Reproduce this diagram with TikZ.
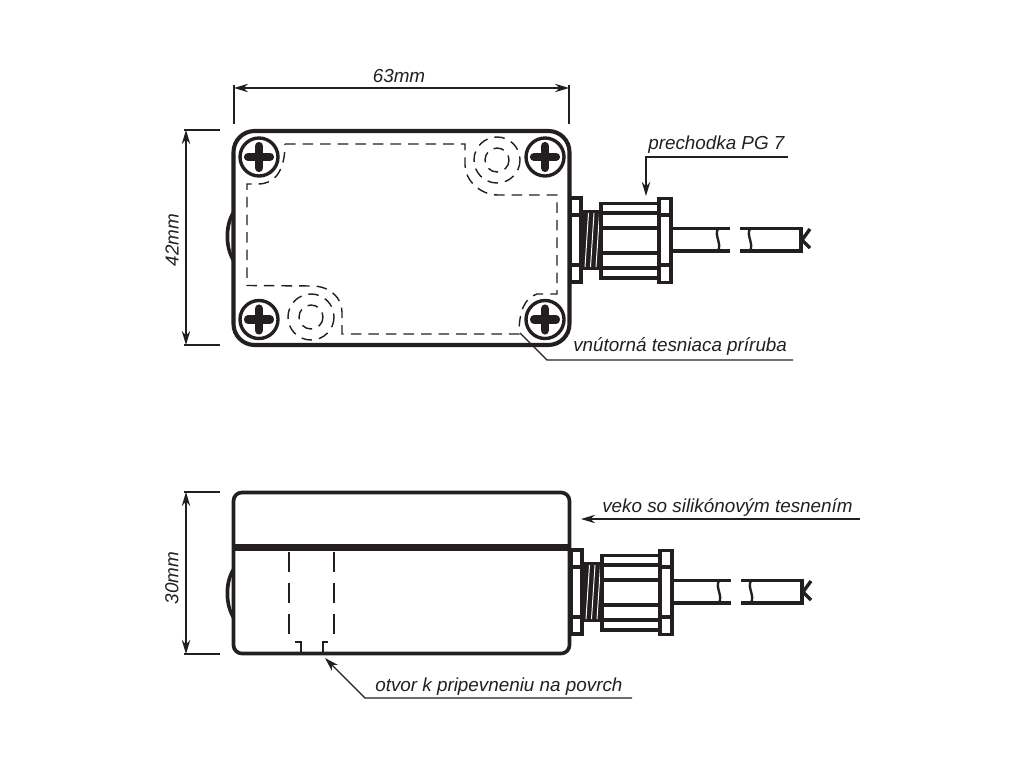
\documentclass[tikz,border=0pt]{standalone}
\usepackage{fontspec}
\setmainfont{Liberation Sans}
\usepackage{xcolor}
\usetikzlibrary{arrows.meta}
\definecolor{ink}{HTML}{231F20}
\newcommand{\gland}{
    \draw[thick line] (570,198) rectangle (581,282);
    \draw[thick line] (570,215) -- (581,215) (570,265) -- (581,265);
    \fill[ink] (581,210) rectangle (601,270);
    \foreach \x in {585,590.5,596}
    {\draw[white, line width=.7pt] (\x,267) -- (\x+3.5,213);}
    \draw[thick line] (601,203.5) rectangle (659,278);
    \foreach \y in {213,228,253,268}
    {\draw[thick line] (601,\y) -- (659,\y);}
    \draw[thick line] (659,198.5) rectangle (671,282.5);
    \draw[thick line] (659,215) -- (671,215) (659,265) -- (671,265);
    \draw[thick line] (671,228.5) -- (730,228.5) (671,251) -- (730,251);
    \draw[thick line] (740,228.5) -- (801,228.5) -- (801,251) -- (740,251);
    \draw[thin line] (718,228.5) .. controls (714,236) and (722,243) .. (718,251);
    \draw[thin line] (750,228.5) .. controls (746,236) and (754,243) .. (750,251);
    \draw[thin line, line width=2.4pt] (810,229) -- (802,240) -- (810,248);
}
\newcommand{\bump}[1]{
    \fill[ink] (233,#1) .. controls (223,#1+14) and (223,#1+38) .. (233,#1+53)
        -- (233,#1+46) .. controls (228,#1+36) and (228,#1+17) .. (233,#1+7) -- cycle;
}
\begin{document}
\begin{tikzpicture}[x={(.025,0)}, y={(0,-.025)}]
    \tikzstyle{thick line} = [draw=ink, line width=2.6pt];
    \tikzstyle{thin line} = [draw=ink, line width=1.7pt];
    \tikzstyle{gasket} = [draw=ink, line width=1pt, dash pattern=on 7.5pt off 5pt];
    \tikzstyle{leader} = [draw=ink, line width=.9pt];
    \tikzstyle{dimen} = [draw=ink, line width=.9pt, {Stealth[length=10pt,width=6pt]}-{Stealth[length=10pt,width=6pt]}];
    \tikzstyle{pointer} = [leader, -{Stealth[length=10pt,width=6pt]}];
    \tikzstyle{label} = [text=ink, inner sep=0pt, font=\fontsize{13.4}{15}\itshape\selectfont];
    \useasboundingbox (0,0) rectangle (1024,768);

    % top view
    \draw[thick line, line width=2.9pt, rounded corners=15pt] (233.5,131) rectangle (569.5,345);
    \bump{210}
    \foreach \x/\y in {259/157, 545/157, 259/319.5, 545/319.5}
    {
    \draw[ink, line width=2.4pt] (\x,\y) circle (19);
    \draw[ink, line width=5.8pt, line cap=round] (\x-11,\y) -- (\x+11,\y) (\x,\y-11) -- (\x,\y+11);
    }
    \draw[gasket] (285,144) -- (465,144) -- (465,165) .. controls (465,180) and (480,195) .. (498,195)
        -- (557,195) -- (557,294) -- (537,294) .. controls (525,298) and (519,310) .. (519,334)
        -- (342,334) -- (342,312) .. controls (342,298) and (330,286) .. (312,286)
        -- (247,285.5) -- (247,184) -- (258,184) .. controls (274,184) and (285,172) .. (285,144);
    \foreach \x/\y in {497/160, 311/317}
    {\draw[gasket] (\x,\y) circle (23);
    \draw[gasket] (\x,\y) circle (12);}
    \gland

    % side view
    \draw[thick line, rounded corners=6pt] (233.5,492.5) rectangle (569.5,653.5);
    \fill[ink] (233,544) rectangle (570,551);
    \bump{567}
    \draw[gasket, line width=1.2pt, dash pattern=on 14pt off 8pt] (289,552) -- (289,637);
    \draw[gasket, line width=1.2pt, dash pattern=on 14pt off 8pt] (334,552) -- (334,637);
    \draw[leader, line width=1.2pt] (295,642) -- (301,642) -- (301,653);
    \draw[leader, line width=1.2pt] (328,642) -- (323,642) -- (323,653);
    \begin{scope}[shift={(1,352)}]
    \gland
    \end{scope}

    % dimensions
    \foreach \n/\x/\y in {wa/234/85, wb/569/85, wc/234/124, wd/569/124,
        ha/184/130, hb/220/130, hc/184/345, hd/220/345,
        sa/184/492, sb/220/492, sc/184/654, sd/220/654}
    {\coordinate (\n) at (\x,\y);}
    \draw[leader] (wa) -- (wc);
    \draw[leader] (wb) -- (wd);
    \draw[leader] (ha) -- (hb);
    \draw[leader] (hc) -- (hd);
    \draw[leader] (sa) -- (sb);
    \draw[leader] (sc) -- (sd);
    \draw[dimen] (234,88) -- (569,88);
    \draw[dimen] (186,130) -- (186,345);
    \draw[dimen] (186,492) -- (186,654);
    \node[label] (width) at (399,76) {63mm};
    \node[label, rotate=90] (height) at (172,240) {42mm};
    \node[label, rotate=90] (depth) at (172,578) {30mm};

    % labels
    \node[label, anchor=west] (gland) at (648,145) {prechodka PG 7};
    \node[label, anchor=west] (flange) at (573,347) {vnútorná tesniaca príruba};
    \node[label, anchor=west] (lid) at (602,508) {veko so silikónovým tesnením};
    \node[label, anchor=west] (hole) at (375,687) {otvor k pripevneniu na povrch};
    \coordinate (glandend) at (788,157);
    \coordinate (glandknee) at (646,157);
    \coordinate (glandtip) at (646,196);
    \coordinate (flangeend) at (793,360);
    \coordinate (flangeknee) at (547,360);
    \coordinate (flangetip) at (520,333);
    \coordinate (lidend) at (860,519);
    \coordinate (lidtip) at (581,519);
    \coordinate (holeend) at (632,698);
    \coordinate (holeknee) at (365,698);
    \coordinate (holetip) at (325,658);
    \draw[pointer] (glandend) -- (glandknee) -- (glandtip);
    \draw[leader] (flangeend) -- (flangeknee) -- (flangetip);
    \draw[pointer] (lidend) -- (lidtip);
    \draw[pointer] (holeend) -- (holeknee) -- (holetip);
\end{tikzpicture}
\end{document}
